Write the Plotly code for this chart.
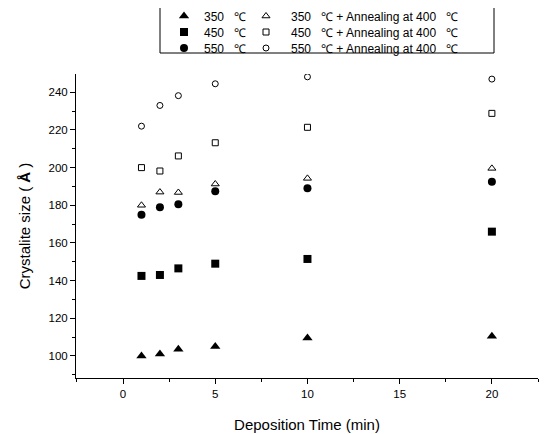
import plotly.graph_objects as go

time_min = [1, 2, 3, 5, 10, 20]

size_350 = [100.0, 101.0, 103.5, 105.0, 109.5, 110.5]
size_450 = [142.5, 143.0, 146.5, 149.0, 151.5, 166.0]
size_550 = [175.0, 179.0, 180.5, 187.5, 189.0, 192.5]
size_350_ann = [180.0, 187.0, 186.8, 191.3, 194.3, 199.6]
size_450_ann = [200.0, 198.2, 206.2, 213.2, 221.4, 228.8]
size_550_ann = [222.0, 233.0, 238.2, 244.5, 248.2, 247.0]

labels = ["350\u00a0\u00a0 \u2103", "450\u00a0\u00a0 \u2103", "550\u00a0\u00a0 \u2103"]
labels_ann = ["350\u00a0\u00a0 \u2103 + Annealing at 400\u00a0\u00a0 \u2103",
              "450\u00a0\u00a0 \u2103 + Annealing at 400\u00a0\u00a0 \u2103",
              "550\u00a0\u00a0 \u2103 + Annealing at 400\u00a0\u00a0 \u2103"]

x_ticks = [0, 5, 10, 15, 20]
y_ticks = [100, 120, 140, 160, 180, 200, 220, 240]

fig = go.Figure()

filled = [(size_350, "triangle-up", 9), (size_450, "square", 8), (size_550, "circle", 8)]
opened = [(size_350_ann, "triangle-up-open", 7), (size_450_ann, "square-open", 6), (size_550_ann, "circle-open", 6)]

# target plot area on screen: x 76..538, y 74..378
def px_x(p):
    return (p - 76) / 462.0

def px_y(p):
    return (378 - p) / 304.0

row_y = [16, 32, 48]
legend_layouts = {}
for i, ((vals, sym, sz), lab) in enumerate(zip(filled, labels)):
    name = "legend" if i == 0 else f"legend{i + 1}"
    fig.add_trace(go.Scatter(x=time_min, y=vals, mode="markers", name=lab,
                             marker=dict(symbol=sym, size=sz, color="black"),
                             legend=name))
    legend_layouts[name] = dict(x=px_x(164), y=px_y(row_y[i]), xanchor="left", yanchor="middle",
                                bgcolor="rgba(0,0,0,0)", borderwidth=0,
                                font=dict(size=12), itemwidth=30)
for i, ((vals, sym, sz), lab) in enumerate(zip(opened, labels_ann)):
    name = f"legend{i + 4}"
    fig.add_trace(go.Scatter(x=time_min, y=vals, mode="markers", name=lab,
                             marker=dict(symbol=sym, size=sz, color="black",
                                         line=dict(width=1, color="black")),
                             legend=name))
    legend_layouts[name] = dict(x=px_x(241), y=px_y(row_y[i]), xanchor="left", yanchor="middle",
                                bgcolor="rgba(0,0,0,0)", borderwidth=0,
                                font=dict(size=12), itemwidth=40)

font_family = "Liberation Sans, Arial, sans-serif"

fig.update_layout(
    width=547, height=434,
    margin=dict(l=68, r=17, t=66, b=64, autoexpand=False),
    paper_bgcolor="white", plot_bgcolor="white",
    font=dict(family=font_family, color="black", size=11),
    showlegend=True,
    shapes=[dict(type="rect", xref="paper", yref="paper",
                 x0=px_x(160), x1=px_x(494), y0=px_y(53), y1=px_y(7),
                 line=dict(color="black", width=1), fillcolor="rgba(0,0,0,0)")],
    xaxis=dict(range=[-2.55, 22.5], tickvals=x_ticks, ticks="outside", ticklen=5,
               tickwidth=1, tickcolor="black", showline=True, linecolor="black",
               linewidth=1, showgrid=False, zeroline=False,
               minor=dict(dtick=2.5, tick0=0, ticks="outside", ticklen=3,
                          tickcolor="black", showgrid=False),
               title=dict(text="Deposition Time (min)", font=dict(size=15), standoff=20),
               tickfont=dict(size=11.5)),
    yaxis=dict(range=[88.3, 249.7], tickvals=y_ticks, ticks="outside", ticklen=5,
               tickwidth=1, tickcolor="black", showline=True, linecolor="black",
               linewidth=1, showgrid=False, zeroline=False,
               minor=dict(dtick=10, tick0=0, ticks="outside", ticklen=3,
                          tickcolor="black", showgrid=False),
               title=dict(text="Crystalite size ( <b>\u00c5</b> )", font=dict(size=15), standoff=14),
               tickfont=dict(size=11.5)),
    **legend_layouts,
)

fig.write_html("out.html")
